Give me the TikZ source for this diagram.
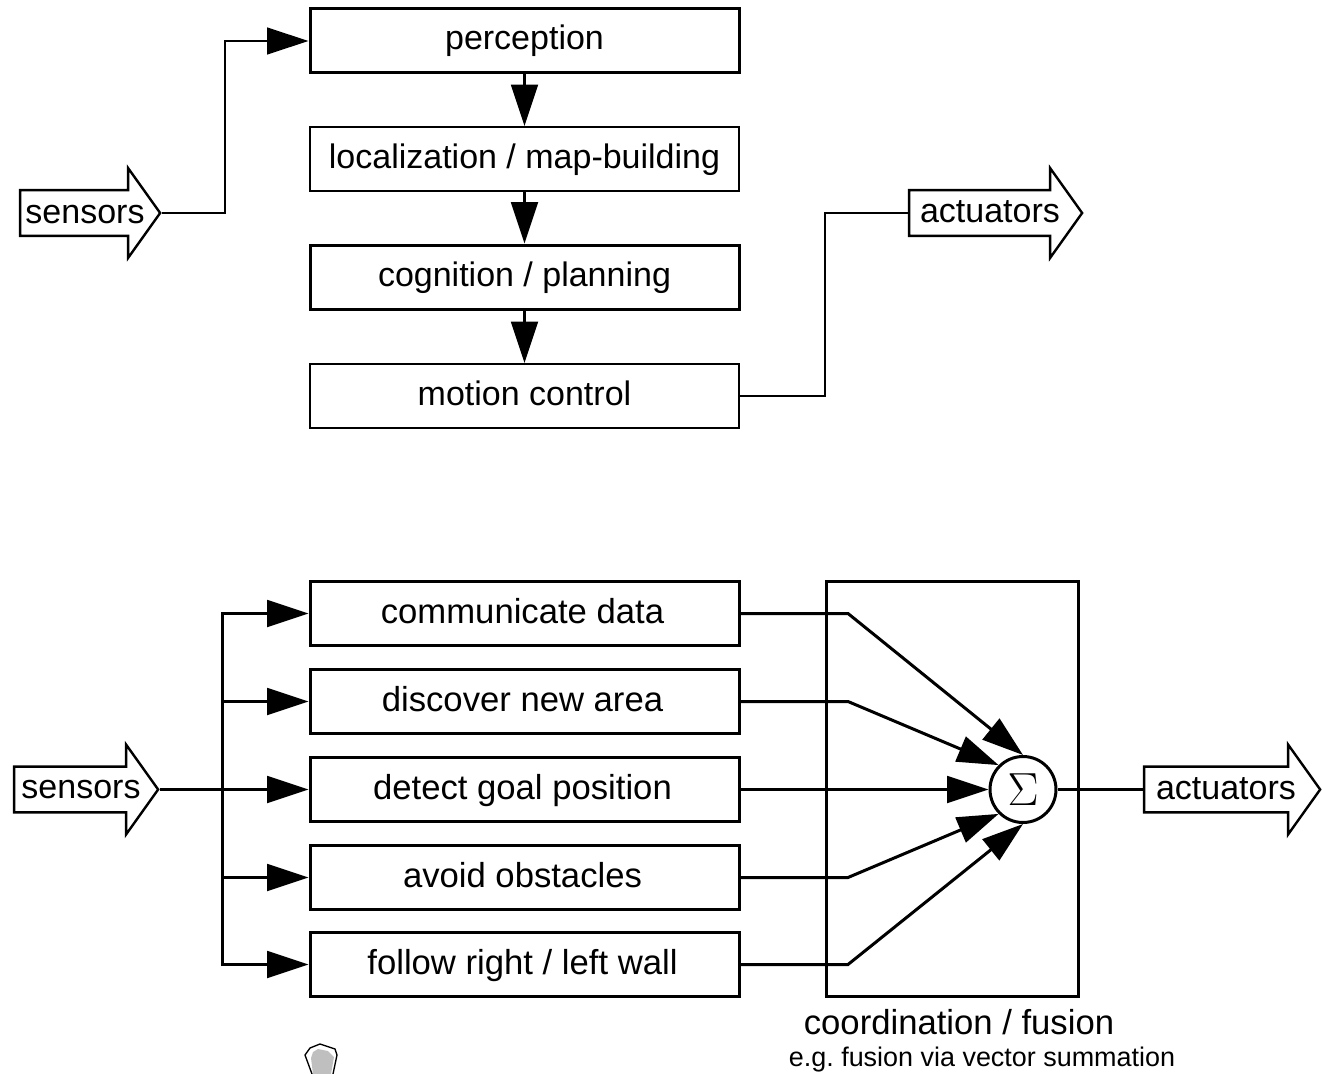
\documentclass[tikz,border=0pt]{standalone}
\usepackage{fontspec}
\setmainfont{Liberation Sans}
\usetikzlibrary{arrows.meta,shapes.arrows}
\tikzset{
  module/.style={draw, line width=2.25pt, minimum width=321.75pt, minimum height=48pt, inner sep=0pt, text height=17pt, text depth=3.5pt, font=\fontsize{25.5}{30}\selectfont},
  lowmodule/.style={module, text depth=1.3pt, font=\fontsize{26}{30}\selectfont, execute at end node={\hspace{3pt}}},
  bigarrow/.style={draw, line width=1.8pt, shape=single arrow, single arrow head extend=16.5pt, single arrow tip angle=109, minimum width=67.5pt, inner sep=0pt, text height=32.25pt},
  arrowtext/.style={inner sep=0pt, font=\fontsize{25.5}{30}\selectfont},
  wire/.style={line width=2.25pt},
  flow/.style={line width=2.25pt, -{Triangle[length=31pt,width=20pt]}}
}
\begin{document}
\begin{tikzpicture}[x=0.75pt, y=-0.75pt]
    \useasboundingbox (0,0) rectangle (1322,1074);
    % Drawing the upper chain of modules
    \node [module] (perception) at (524.5,41) {perception};
    \node [module, line width=1.6pt] (localization) at (524.5,159) {localization / map-building};
    \node [module] (cognition) at (524.5,277) {cognition / planning};
    \node [module, line width=1.6pt] (motion) at (524.5,396) {motion control};
    \draw [flow] (perception) -- (localization);
    \draw [flow] (localization) -- (cognition);
    \draw [flow] (cognition) -- (motion);
    % Drawing the upper sensors and actuators
    \node [bigarrow, minimum height=105pt] (sensorsa) at (82,213) {};
    \node [arrowtext] (sensorsatext) at (85,215) {sensors};
    \node [bigarrow, minimum height=129.75pt] (actuatorsa) at (987.5,213) {};
    \node [arrowtext] (actuatorsatext) at (990,212) {actuators};
    \draw [flow, line width=1.6pt] (sensorsa.tip) -- ++(63,0) |- (perception);
    \draw [wire, line width=1.6pt] (motion.east) -- ++(85,0) |- (actuatorsa.tail);
    % Drawing the parallel behaviours
    \node [lowmodule] (communicate) at (524.5,613.5) {communicate data};
    \node [lowmodule] (discover) at (524.5,701.5) {discover new area};
    \node [lowmodule] (detect) at (524.5,789.5) {detect goal position};
    \node [lowmodule] (avoid) at (524.5,877.5) {avoid obstacles};
    \node [lowmodule] (follow) at (524.5,964.5) {follow right / left wall};
    % Drawing the lower sensors and actuators
    \node [bigarrow, minimum height=108pt] (sensorsb) at (78,789.5) {};
    \node [arrowtext] (sensorsbtext) at (81,790) {sensors};
    \node [bigarrow, minimum height=132pt] (actuatorsb) at (1224,789.5) {};
    \node [arrowtext] (actuatorsbtext) at (1226,789) {actuators};
    % Drawing the coordination box and the sum
    \node [draw, line width=2.25pt, minimum width=189pt, minimum height=311.25pt] (coordination) at (952,788.5) {};
    \node [draw, circle, line width=2.25pt, minimum size=49.5pt, inner sep=0pt, font=\fontsize{24}{28}\selectfont] (sigma) at (1023,789.5) {\scalebox{1.4}{$\Sigma$}};
    \node [arrowtext, font=\fontsize{26}{30}\selectfont] (fusion) at (959,1022) {coordination / fusion};
    \node [arrowtext, font=\fontsize{20.2}{24}\selectfont] (example) at (982,1060) {e.g.\ fusion via vector summation};
    % Drawing the inputs
    \draw [flow] (sensorsb.tip) -- (detect);
    \draw [flow] (222.5,789.5) |- (communicate);
    \draw [flow] (222.5,789.5) |- (discover);
    \draw [flow] (222.5,789.5) |- (avoid);
    \draw [flow] (222.5,789.5) |- (follow);
    % Drawing the outputs
    \draw [flow] (communicate) -- (848,613.5) -- (sigma.90);
    \draw [flow] (discover) -- (848,701.5) -- (sigma.135);
    \draw [flow] (detect) -- (sigma.west);
    \draw [flow] (avoid) -- (848,877.5) -- (sigma.225);
    \draw [flow] (follow) -- (848,964.5) -- (sigma.270);
    \draw [wire] (sigma) -- (actuatorsb.tail);
    % Drawing the small mark at the bottom
    \fill [black!25] (318,1049) -- (328,1051) -- (334,1057) -- (331,1074) -- (313,1074) -- (311,1058) -- (313,1052) -- cycle;
    \draw [line width=1pt] (312,1074) -- (305,1055) -- (310,1048) -- (320,1044) -- (335,1049) -- (337,1055) -- (333,1074);
\end{tikzpicture}
\end{document}
